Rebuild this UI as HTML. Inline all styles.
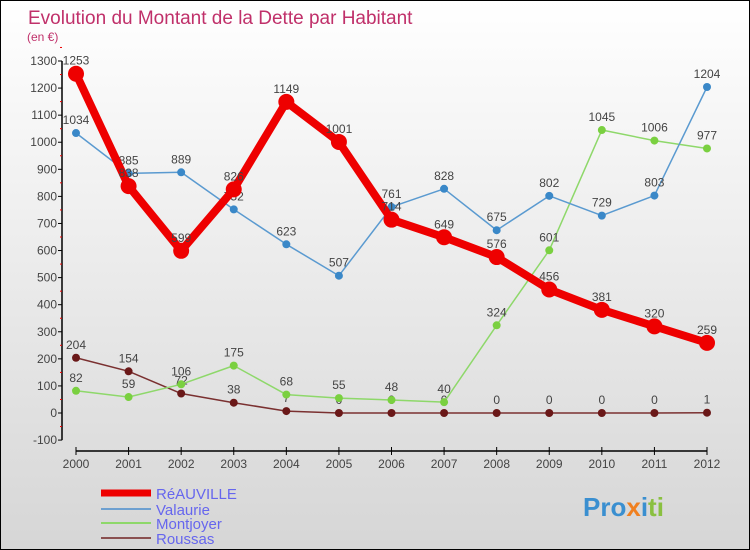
<!DOCTYPE html>
<html><head><meta charset="utf-8"><style>
body{margin:0;}
#c{position:relative;width:748px;height:548px;border:1px solid #000;background:linear-gradient(#fff,#d6d6d6);font-family:"Liberation Sans",sans-serif;overflow:hidden}
text{font-family:"Liberation Sans",sans-serif}
</style></head><body>
<div id="c">
<svg width="748" height="548" id="svg">
<text x="27" y="23" font-size="19" fill="#c0306a">Evolution du Montant de la Dette par Habitant</text>
<text x="26" y="40" font-size="12" fill="#c0306a">(en €)</text>
<g id="axes"></g><g id="series"></g>
<g>
<line x1="100" y1="492" x2="150" y2="492" stroke="#e00" stroke-width="7"/>
<text x="155" y="498" font-size="15" fill="#6666ee">RéAUVILLE</text>
<line x1="100" y1="508" x2="150" y2="508" stroke="#6ea0d0" stroke-width="2"/>
<text x="155" y="514" font-size="15" fill="#6666ee">Valaurie</text>
<line x1="100" y1="522" x2="150" y2="522" stroke="#8ed86a" stroke-width="2"/>
<text x="155" y="528" font-size="15" fill="#6666ee">Montjoyer</text>
<line x1="100" y1="537" x2="150" y2="537" stroke="#8a5050" stroke-width="2"/>
<text x="155" y="543" font-size="15" fill="#6666ee">Roussas</text>
</g>
<text x="582" y="515" font-size="26" font-weight="bold"><tspan fill="#3a8fd0">Pro</tspan><tspan fill="#f08020">x</tspan><tspan fill="#3a8fd0">i</tspan><tspan fill="#8ac040">ti</tspan></text>
</svg>
</div>
<script>
const years=[2000,2001,2002,2003,2004,2005,2006,2007,2008,2009,2010,2011,2012];
const reauville=[1253,838,599,826,1149,1001,714,649,576,456,381,320,259];
const valaurie=[1034,885,889,752,623,507,761,828,675,802,729,803,1204];
const montjoyer=[82,59,106,175,68,55,48,40,324,601,1045,1006,977];
const roussas=[204,154,72,38,7,0,0,0,0,0,0,0,1];
const yTicks=[-100,0,100,200,300,400,500,600,700,800,900,1000,1100,1200,1300];
const NS="http://www.w3.org/2000/svg";
const X=i=>75+i*(706-75)/12;
const Y=v=>412-v*(352/1300);
function mk(tag,attrs,parent){const e=document.createElementNS(NS,tag);for(const k in attrs)e.setAttribute(k,attrs[k]);parent.appendChild(e);return e;}
const ax=document.getElementById('axes');
let l=mk('line',{x1:61,y1:Y(1300),x2:61,y2:Y(-100),stroke:'#000','stroke-width':1.5},ax);


yTicks.forEach(v=>{
  mk('line',{x1:57,y1:Y(v),x2:61,y2:Y(v),stroke:'#000'},ax);
  mk('line',{x1:59,y1:Y(v+50),x2:61,y2:Y(v+50),stroke:'#e00'},ax);
  const t=mk('text',{x:56,y:Y(v)+4,'font-size':12,'text-anchor':'end',fill:'#444'},ax);
  t.textContent=v;
  
  
});
l=mk('line',{x1:X(0),y1:450,x2:X(12),y2:450,stroke:'#000','stroke-width':1.5},ax);


years.forEach((y,i)=>{
  mk('line',{x1:X(i),y1:446,x2:X(i),y2:454,stroke:'#000'},ax);
  const t=mk('text',{x:X(i),y:467,'font-size':12,'text-anchor':'middle',fill:'#444'},ax);
  t.textContent=y;
  
  
});
const sg=document.getElementById('series');
function draw(name,vals,color,w,r,dot){
  const g=mk('g',{},sg);
  
  
  mk('polyline',{points:vals.map((v,i)=>X(i)+','+Y(v)).join(' '),fill:'none',stroke:color,'stroke-width':w,'stroke-linejoin':'round'},g);
  vals.forEach((v,i)=>{
    const c=mk('circle',{cx:X(i),cy:Y(v),r:r,fill:dot},g);
    
    
    const t=mk('text',{x:X(i),y:Y(v)-9,'font-size':12,'text-anchor':'middle',fill:'#444'},g);
    t.textContent=v;
    
    
  });
}
draw('roussas',roussas,'#7a3030',1.5,4,'#6a1818');
draw('montjoyer',montjoyer,'#8ed86a',1.5,4,'#7ad040');
draw('valaurie',valaurie,'#5a9ad0',1.5,4,'#3a88c8');
draw('reauville',reauville,'#ee0000',8,8,'#ee0000');
</script>
</body></html>
